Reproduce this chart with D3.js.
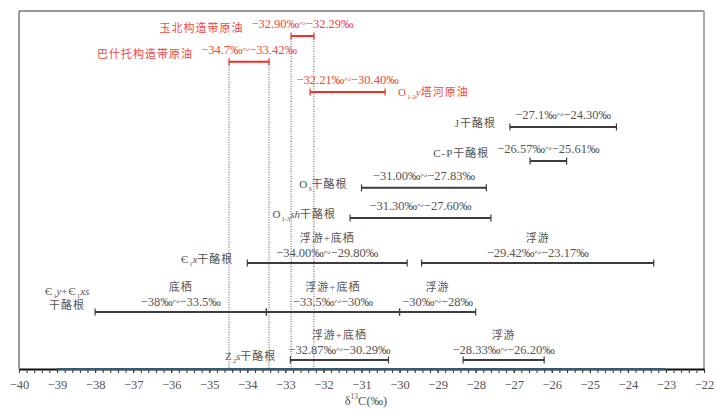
<!DOCTYPE html>
<html>
<head>
<meta charset="utf-8">
<script src="https://cdn.jsdelivr.net/npm/d3@7"></script>
<style>
  body { margin: 0; background: #fff; }
  text { font-family: "Liberation Serif", "Noto Sans CJK SC", serif; }
</style>
</head>
<body>
<div id="chart"></div>
<script>
// ---- données ----
// noms des lignes : _{..} indice, ^{..} exposant, *..* italique, | saut de ligne
const rowNames = ["玉北构造带原油", "巴什托构造带原油", "O_{1-2}*y*塔河原油", "J干酪根", "C-P干酪根",
                  "O_{3}干酪根", "O_{1-3}*sh*干酪根", "Є_{1}*x*干酪根", "Є_{1}*y*+Є_{1}*xs*|干酪根", "Z_{2}*s*干酪根"];
const rowIsOil = [true, true, true, false, false, false, false, false, false, false];

// segments (une ligne peut en avoir plusieurs)
const segRow  = [0, 1, 2, 3, 4, 5, 6, 7, 7, 8, 8, 8, 9, 9];
const segLow  = [-32.85, -34.48, -32.35, -27.10, -26.57, -31.00, -31.30, -34.00, -29.42, -38.0, -33.5, -30.0, -32.87, -28.33];
const segHigh = [-32.25, -33.43, -30.38, -24.30, -25.61, -27.72, -27.60, -29.80, -23.32, -33.5, -30.0, -28.0, -30.29, -26.20];
const segType = ["", "", "", "", "", "", "", "浮游+底栖", "浮游", "底栖", "浮游+底栖", "浮游", "浮游+底栖", "浮游"];
const segText = ["−32.90‰~−32.29‰", "−34.7‰~−33.42‰", "−32.21‰~−30.40‰", "−27.1‰~−24.30‰", "−26.57‰~−25.61‰",
                 "−31.00‰~−27.83‰", "−31.30‰~−27.60‰", "−34.00‰~−29.80‰", "−29.42‰~−23.17‰",
                 "−38‰~−33.5‰", "−33.5‰~−30‰", "−30‰~−28‰", "−32.87‰~−30.29‰", "−28.33‰~−26.20‰"];

const xTicks = d3.range(-40, -21, 1);
const xTitle = "δ^{13}C(‰)";

// ---- mise en page ----
const largeur = 717, hauteur = 412;
const gauche = 19, droite = 704, haut = 11, bas = 369;
const rowPos   = [0.70, 1.42, 2.26, 3.24, 4.19, 4.94, 5.78, 7.04, 8.41, 9.75];
const nameMode = ["value", "value", "after", "left", "value", "left", "left", "left", "stack", "left"];

const ROUGE_TRAIT = "#ec2f27", ROUGE_TEXTE = "#f0483e";
const NOIR_TRAIT = "#3c3c3c", GRIS_TEXTE = "#555";
const T_NOM = 11, T_VAL = 12.5;

const x = d3.scaleLinear().domain([-40, -22]).range([gauche, droite]);
const y = d3.scaleLinear().domain([0, 10]).range([haut, bas]);

const svg = d3.select("#chart").append("svg")
    .attr("width", largeur).attr("height", hauteur);

// petit parseur pour indices / exposants / italiques
function remplir(sel, s, fs) {
  const re = /(_\{[^}]*\}|\^\{[^}]*\}|\*[^*]*\*|[^_^*]+)/g;
  let decal = 0;
  (s.match(re) || []).forEach(p => {
    let cible = 0, txt = p;
    const ts = sel.append("tspan");
    if (p[0] === "_") {
      cible = fs * 0.3; txt = p.slice(2, -1);
      ts.attr("font-size", fs * 0.6).attr("letter-spacing", 0);
    } else if (p[0] === "^") {
      cible = -fs * 0.45; txt = p.slice(2, -1);
      ts.attr("font-size", fs * 0.6).attr("letter-spacing", 0);
    } else if (p[0] === "*") {
      txt = p.slice(1, -1);
      ts.attr("font-style", "italic").attr("letter-spacing", 0);
    }
    if (cible !== decal) ts.attr("dy", cible - decal);
    decal = cible;
    ts.text(txt);
  });
  return sel;
}

// cadre
svg.append("line").attr("x1", gauche).attr("x2", droite).attr("y1", haut).attr("y2", haut)
    .attr("stroke", "#777").attr("stroke-width", 1.5);
svg.append("line").attr("x1", gauche).attr("x2", gauche).attr("y1", haut).attr("y2", bas)
    .attr("stroke", "#777").attr("stroke-width", 1.5);
svg.append("line").attr("x1", droite).attr("x2", droite).attr("y1", haut).attr("y2", bas)
    .attr("stroke", "#aaa").attr("stroke-width", 2);

// lignes pointillées sous les deux premiers pétroles
const gPoint = svg.append("g");
segRow.forEach((r, i) => {
  if (r > 1) return;
  [segLow[i], segHigh[i]].forEach(v => {
    gPoint.append("line")
        .attr("x1", x(v)).attr("x2", x(v))
        .attr("y1", y(rowPos[r])).attr("y2", bas)
        .attr("stroke", "#555").attr("stroke-width", 1)
        .attr("stroke-dasharray", "1,1.5");
  });
});

// axe
const gAxe = svg.append("g").attr("transform", `translate(0,${bas})`);
gAxe.append("g")
    .call(d3.axisBottom(x).tickValues(d3.range(-40, -21.9, 0.2)).tickSize(4).tickSizeOuter(0).tickFormat(""))
    .call(g => g.select(".domain").attr("stroke", "#111").attr("stroke-width", 2))
    .call(g => g.selectAll(".tick line").attr("stroke", "#333"));
const axeMaj = gAxe.append("g")
    .call(d3.axisBottom(x).tickValues(xTicks).tickSize(4).tickSizeOuter(0).tickPadding(7));
axeMaj.select(".domain").remove();
axeMaj.selectAll(".tick line").attr("stroke", "#333");
axeMaj.selectAll(".tick text")
    .attr("font-size", 12.5).attr("fill", GRIS_TEXTE);
gAxe.append("line").attr("x1", x(-39)).attr("x2", x(-23)).attr("y1", 0).attr("y2", 0)
    .attr("stroke", "#2f5c78").attr("stroke-width", 2);

remplir(svg.append("text")
    .attr("x", 366).attr("y", 405).attr("text-anchor", "middle")
    .attr("font-size", 12.5).attr("fill", GRIS_TEXTE), xTitle, 12.5);

// barres
const gBar = svg.append("g");
const valueBox = {};
segRow.forEach((r, i) => {
  const c = rowIsOil[r] ? ROUGE_TRAIT : NOIR_TRAIT;
  const yy = y(rowPos[r]);
  const x0 = x(segLow[i]), x1 = x(segHigh[i]);
  gBar.append("line").attr("x1", x0).attr("x2", x1).attr("y1", yy).attr("y2", yy)
      .attr("stroke", c).attr("stroke-width", 2);
  [x0, x1].forEach(xx => gBar.append("line")
      .attr("x1", xx).attr("x2", xx).attr("y1", yy - 3.5).attr("y2", yy + 3.5)
      .attr("stroke", c).attr("stroke-width", 1.2));

  const mid = (x0 + x1) / 2;
  const tc = rowIsOil[r] ? ROUGE_TEXTE : GRIS_TEXTE;
  const dyVal = segType[i] ? -10 : -12;
  const t = gBar.append("text")
      .attr("x", mid).attr("y", yy + dyVal).attr("dy", "0.35em")
      .attr("text-anchor", "middle").attr("font-size", T_VAL).attr("fill", tc)
      .text(segText[i]);
  if (!(r in valueBox)) valueBox[r] = t.node().getBBox();
  if (segType[i]) {
    gBar.append("text")
        .attr("x", mid).attr("y", yy - 25).attr("dy", "0.35em")
        .attr("text-anchor", "middle").attr("font-size", T_NOM).attr("letter-spacing", 1)
        .attr("fill", tc).text(segType[i]);
  }
});

// noms des lignes
const gNom = svg.append("g");
rowNames.forEach((nom, r) => {
  const idx = segRow.map((s, i) => s === r ? i : -1).filter(i => i >= 0);
  const debut = x(d3.min(idx, i => segLow[i]));
  const fin = x(d3.max(idx, i => segHigh[i]));
  const yy = y(rowPos[r]);
  const c = rowIsOil[r] ? ROUGE_TEXTE : GRIS_TEXTE;
  const mode = nameMode[r];
  const lignes = nom.split("|");
  lignes.forEach((ligne, k) => {
    const t = gNom.append("text").attr("font-size", T_NOM).attr("letter-spacing", 1)
        .attr("fill", c).attr("dy", "0.35em");
    if (mode === "left") {
      t.attr("x", debut - 14).attr("y", yy - 4).attr("text-anchor", "end");
    } else if (mode === "after") {
      t.attr("x", fin + 13).attr("y", yy).attr("text-anchor", "start");
    } else if (mode === "value") {
      t.attr("x", valueBox[r].x - 8).attr("y", yy - 8).attr("text-anchor", "end");
    } else {
      t.attr("x", debut - 28).attr("y", yy - 21 + k * 14).attr("text-anchor", "middle");
    }
    remplir(t, ligne, T_NOM);
  });
});
</script>
</body>
</html>
